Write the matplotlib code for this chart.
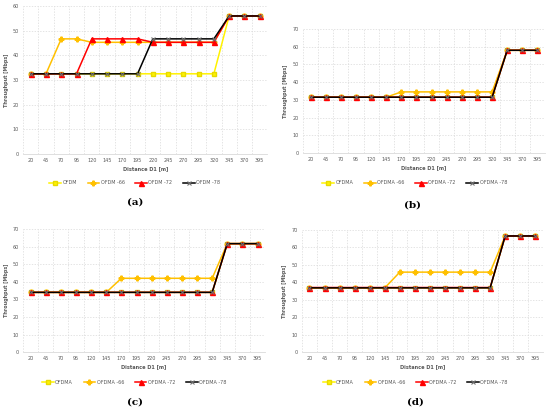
import numpy as np
import matplotlib.pyplot as plt

distance = [20, 45, 70, 95, 120, 145, 170, 195, 220, 245, 270, 295, 320, 345, 370, 395]

# panel (a)
a_ofdm = [32.5]*13 + [56]*3
a_ofdm66 = [32.5, 32.5, 46.7, 46.7] + [45.3]*9 + [56]*3
a_ofdm72 = [32.5]*4 + [46.7]*4 + [45.3]*5 + [56]*3
a_ofdm78 = [32.5]*8 + [46.7]*5 + [56]*3

# panel (b)
b_ofdma = [31.5]*13 + [58]*3
b_ofdma66 = [31.5]*6 + [34.5]*7 + [58]*3
b_ofdma72 = [31.5]*13 + [58]*3
b_ofdma78 = [31.5]*13 + [58]*3

# panel (c)
c_ofdma = [34]*13 + [61.7]*3
c_ofdma66 = [34]*6 + [42]*7 + [61.7]*3
c_ofdma72 = [34]*13 + [61.7]*3
c_ofdma78 = [34]*13 + [61.7]*3

# panel (d)
d_ofdma = [36.8]*13 + [66.5]*3
d_ofdma66 = [36.8]*6 + [45.8]*7 + [66.5]*3
d_ofdma72 = [37]*13 + [66.5]*3
d_ofdma78 = [36.8]*13 + [66.5]*3

labels_a = ["OFDM", "OFDM -66", "OFDM -72", "OFDM -78"]
labels_bcd = ["OFDMA", "OFDMA -66", "OFDMA -72", "OFDMA -78"]

styles = [
    dict(color='#FFF200', marker='s', ms=3.4, mfc='#FFF200', mec='#E6D900'),
    dict(color='#FFC000', marker='P', ms=3.4, mfc='#FFC000', mec='#FFC000'),
    dict(color='#FF0000', marker='^', ms=3.6, mfc='#FF0000', mec='#FF0000'),
    dict(color='#000000', marker='x', ms=3.0, mfc='#707070', mec='#707070', mew=0.8),
]

panels = [
    # data, labels, ymax, axes rect, legend centre, caption pos, caption
    ([a_ofdm, a_ofdm66, a_ofdm72, a_ofdm78], labels_a, 60,
     [0.042, 0.624, 0.444, 0.361], (0.245, 0.553), (0.245, 0.505), "(a)"),
    ([b_ofdma, b_ofdma66, b_ofdma72, b_ofdma78], labels_bcd, 70,
     [0.551, 0.626, 0.440, 0.303], (0.754, 0.553), (0.750, 0.498), "(b)"),
    ([c_ofdma, c_ofdma66, c_ofdma72, c_ofdma78], labels_bcd, 70,
     [0.042, 0.139, 0.440, 0.301], (0.244, 0.066), (0.245, 0.017), "(c)"),
    ([d_ofdma, d_ofdma66, d_ofdma72, d_ofdma78], labels_bcd, 70,
     [0.549, 0.139, 0.438, 0.299], (0.755, 0.066), (0.755, 0.017), "(d)"),
]

fig = plt.figure(figsize=(5.5, 4.09), dpi=100)
x = np.arange(len(distance))

for series, labels, ymax, rect, legpos, cappos, cap in panels:
    ax = fig.add_axes(rect)
    for vals, lab, st in zip(series, labels, styles):
        ax.plot(x, vals, lw=1.1, label=lab, **st)
    ax.set_xlim(-0.5, len(distance) - 0.5)
    ax.set_ylim(0, ymax)
    ax.set_yticks(np.arange(0, ymax + 1, 10))
    ax.set_xticks(x)
    ax.set_xticklabels([str(d) for d in distance])
    ax.set_xticks(np.arange(-0.5, len(distance), 1), minor=True)
    ax.tick_params(axis='both', which='both', length=0, labelsize=3.5,
                   labelcolor='#595959', pad=3)
    ax.grid(True, axis='y', which='major', ls=(0, (2, 2)), lw=0.5, color='#D9D9D9')
    ax.grid(True, axis='x', which='minor', ls=(0, (2, 2)), lw=0.5, color='#D9D9D9')
    for s in ax.spines.values():
        s.set_visible(False)
    ax.spines['bottom'].set_visible(True)
    ax.spines['bottom'].set_color('#D9D9D9')
    ax.spines['bottom'].set_linewidth(0.6)
    ax.set_xlabel("Distance D1 [m]", fontsize=3.6, fontweight='bold',
                  color='#595959', labelpad=2)
    ax.set_ylabel("Throughput [Mbps]", fontsize=3.5, fontweight='bold',
                  color='#595959', labelpad=3)
    leg = ax.legend(loc='center', bbox_to_anchor=legpos, bbox_transform=fig.transFigure,
                    ncol=4, frameon=False, fontsize=3.5, handlelength=2.4,
                    columnspacing=2.2, handletextpad=0.3)
    for t in leg.get_texts():
        t.set_color('#595959')
    fig.text(cappos[0], cappos[1], cap, ha='center', va='center',
             fontsize=7.5, fontweight='bold', family='DejaVu Serif')

fig.savefig("out.png", dpi=100)
